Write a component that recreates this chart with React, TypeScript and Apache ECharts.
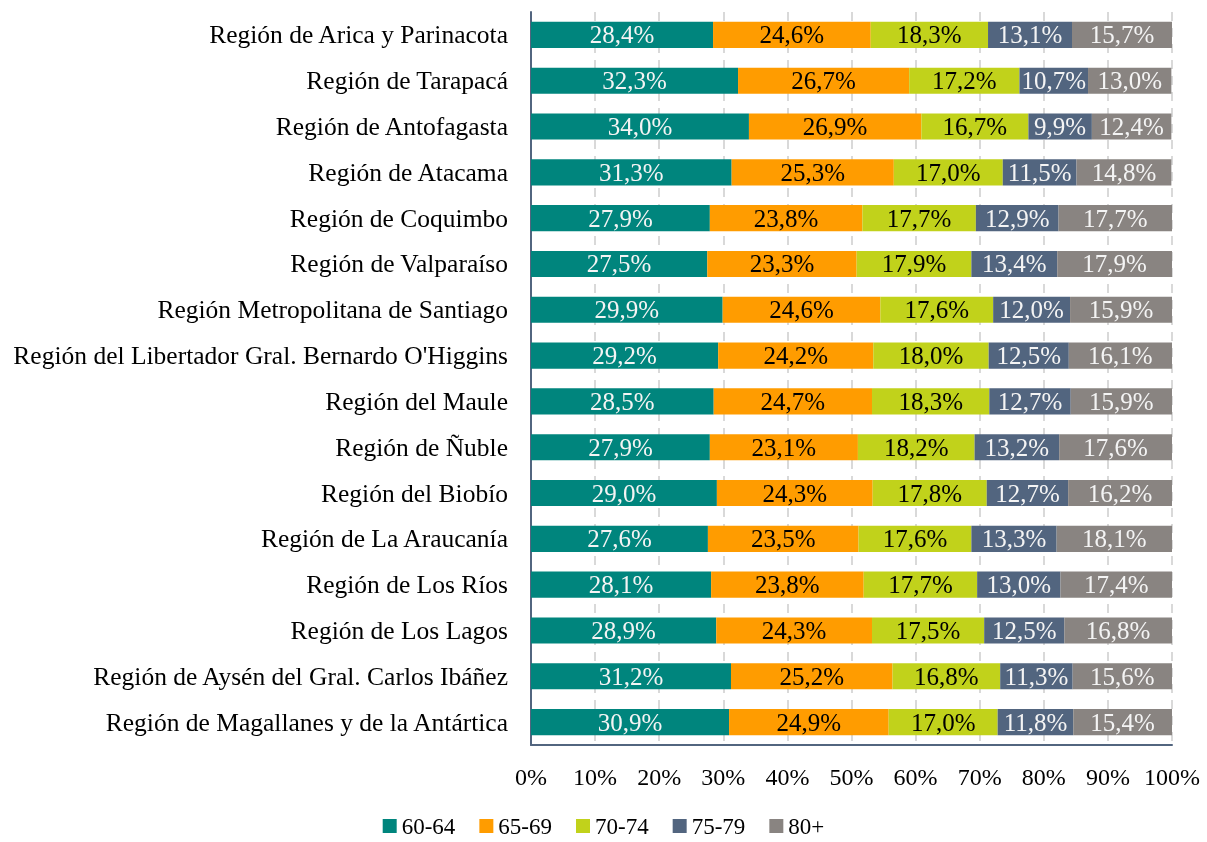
import React, { useEffect, useRef } from "react";
import * as echarts from "echarts";

const regions = [
  "Región de Arica y Parinacota",
  "Región de Tarapacá",
  "Región de Antofagasta",
  "Región de Atacama",
  "Región de Coquimbo",
  "Región de Valparaíso",
  "Región Metropolitana de Santiago",
  "Región del Libertador Gral. Bernardo O'Higgins",
  "Región del Maule",
  "Región de Ñuble",
  "Región del Biobío",
  "Región de La Araucanía",
  "Región de Los Ríos",
  "Región de Los Lagos",
  "Región de Aysén del Gral. Carlos Ibáñez",
  "Región de Magallanes y de la Antártica",
];

const s6064 = [28.4, 32.3, 34.0, 31.3, 27.9, 27.5, 29.9, 29.2, 28.5, 27.9, 29.0, 27.6, 28.1, 28.9, 31.2, 30.9];
const s6569 = [24.6, 26.7, 26.9, 25.3, 23.8, 23.3, 24.6, 24.2, 24.7, 23.1, 24.3, 23.5, 23.8, 24.3, 25.2, 24.9];
const s7074 = [18.3, 17.2, 16.7, 17.0, 17.7, 17.9, 17.6, 18.0, 18.3, 18.2, 17.8, 17.6, 17.7, 17.5, 16.8, 17.0];
const s7579 = [13.1, 10.7, 9.9, 11.5, 12.9, 13.4, 12.0, 12.5, 12.7, 13.2, 12.7, 13.3, 13.0, 12.5, 11.3, 11.8];
const s80 = [15.7, 13.0, 12.4, 14.8, 17.7, 17.9, 15.9, 16.1, 15.9, 17.6, 16.2, 18.1, 17.4, 16.8, 15.6, 15.4];

const seriesNames = ["60-64", "65-69", "70-74", "75-79", "80+"];
const seriesData = [s6064, s6569, s7074, s7579, s80];
const colors = ["#00857D", "#FF9C00", "#C1D21B", "#52657F", "#898481"];
const labelColors = ["#f4f4f4", "#000000", "#000000", "#f4f4f4", "#f4f4f4"];

const FONT = "'Liberation Serif', 'Times New Roman', serif";

export default function App() {
  const ref = useRef<HTMLDivElement>(null);
  useEffect(() => {
    if (!ref.current) return;
    const chart = echarts.init(ref.current, undefined, { renderer: "svg" });
    chart.setOption({
      animation: false,
      textStyle: { fontFamily: FONT },
      legend: {
        top: 809,
        left: "center",
        icon: "rect",
        itemWidth: 14,
        itemHeight: 14,
        itemGap: 24,
        data: seriesNames,
        textStyle: { fontFamily: FONT, fontSize: 23, lineHeight: 24, color: "#000" },
      },
      grid: { left: 531, right: 35, top: 12, bottom: 97, containLabel: false },
      xAxis: {
        type: "value",
        min: 0,
        max: 100,
        interval: 10,
        axisLabel: {
          formatter: "{value}%",
          fontFamily: FONT,
          fontSize: 24,
          color: "#000",
          margin: 20,
        },
        axisLine: { show: true, lineStyle: { color: "#52657F", width: 2 } },
        axisTick: { show: false },
        splitLine: { show: true, lineStyle: { color: "#d9d9d9", width: 2, type: [9, 7] } },
      },
      yAxis: {
        type: "category",
        inverse: true,
        data: regions,
        axisLabel: { fontFamily: FONT, fontSize: 25.5, color: "#000", margin: 23 },
        axisLine: { show: true, lineStyle: { color: "#52657F", width: 2 } },
        axisTick: { show: false },
      },
      series: seriesNames.map((name, i) => ({
        name,
        type: "bar",
        stack: "total",
        barWidth: "57%",
        itemStyle: { color: colors[i] },
        label: {
          show: true,
          position: "inside",
          fontFamily: FONT,
          fontSize: 25,
          color: labelColors[i],
          formatter: (p: any) => p.value.toFixed(1).replace(".", ",") + "%",
        },
        data: seriesData[i],
      })),
    });
    return () => chart.dispose();
  }, []);
  return <div ref={ref} style={{ position: "fixed", left: 0, top: 0, width: 1207, height: 842 }} />;
}
